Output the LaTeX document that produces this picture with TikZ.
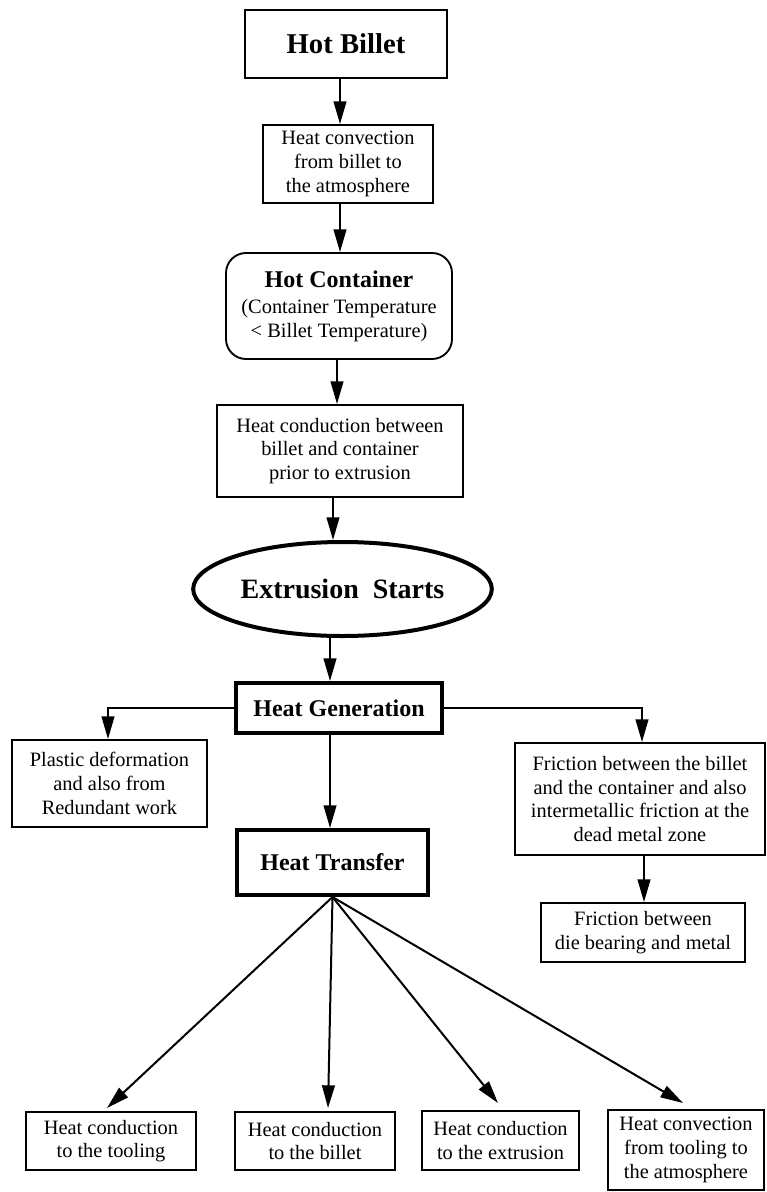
\documentclass[tikz,border=0pt]{standalone}
\usepackage{fontspec}
\setmainfont{Liberation Serif}
\usetikzlibrary{arrows.meta,shapes.geometric,calc}
\begin{document}
\begin{tikzpicture}[x=0.75pt,y=-0.75pt,
  box/.style={draw, line width=1.4pt, inner sep=0pt, align=center, font=\fontsize{15.3}{17.8}\selectfont},
  thickbox/.style={box, line width=3pt, font=\bfseries\fontsize{18}{21}\selectfont},
  arr/.style={-{Triangle[length=17pt,width=9.5pt]}, line width=1.5pt},
  ln/.style={line width=1.5pt}]
\useasboundingbox (0,0) rectangle (767,1192);
\fill[white] (0,0) rectangle (767,1192);

% columns for vertical connectors
\coordinate (x340) at (340,0);
\coordinate (x337) at (337,0);
\coordinate (x333) at (333,0);
\coordinate (x330) at (330,0);
\coordinate (x108) at (108,0);
\coordinate (x642) at (642,0);
\coordinate (x644) at (644,0);

\node[box, line width=1.7pt, minimum width=151.5pt, minimum height=51pt, font=\bfseries\fontsize{21.5}{24}\selectfont] (hotbillet) at (346,44) {Hot Billet};
\node[box, minimum width=127.5pt, minimum height=58.5pt] (conv1) at (348,164) {Heat convection\\from billet to\\the atmosphere};
\node[box, rounded corners=15pt, minimum width=169.5pt, minimum height=79.5pt] (container) at (339,306)
  {{\bfseries\fontsize{18}{21}\selectfont Hot Container}\\[2pt](Container Temperature\\< Billet Temperature)};
\node[box, minimum width=184.5pt, minimum height=69pt] (cond1) at (340,451) {Heat conduction between\\billet and container\\prior to extrusion};
\node[ellipse, draw, line width=3pt, minimum width=224pt, minimum height=70.5pt, inner sep=0pt, font=\bfseries\fontsize{21}{24}\selectfont] (start) at (342.5,589) {Extrusion\ \ Starts};
\node[thickbox, minimum width=154.5pt, minimum height=37.5pt] (heatgen) at (339,708) {Heat Generation};
\node[box, minimum width=146.25pt, minimum height=65.25pt] (plastic) at (109.5,783.5) {Plastic deformation\\and also from\\Redundant work};
\node[box, minimum width=187.5pt, minimum height=84pt] (friction) at (640,799) {Friction between the billet\\and the container and also\\intermetallic friction at the\\dead metal zone};
\node[box, minimum width=153pt, minimum height=44.25pt] (diebearing) at (643,932.5) {Friction between\\die bearing and metal};
\node[thickbox, minimum width=143.25pt, minimum height=48.75pt] (heattransfer) at (332.5,862.5) {Heat Transfer};
\node[box, minimum width=127.5pt, minimum height=43.5pt] (tooling) at (111,1141) {Heat conduction\\to the tooling};
\node[box, minimum width=120pt, minimum height=43.5pt] (billet) at (315,1141) {Heat conduction\\to the billet};
\node[box, minimum width=117.75pt, minimum height=44.25pt] (extrusion) at (500.5,1140.5) {Heat conduction\\to the extrusion};
\node[box, minimum width=117pt, minimum height=60pt] (atmos) at (686,1150) {Heat convection\\from tooling to\\the atmosphere};

% arrow tips of the fan
\coordinate (t1) at (107,1108);
\coordinate (t2) at (328,1108);
\coordinate (t3) at (498,1103);
\coordinate (t4) at (683,1103);

\draw[arr] (hotbillet.south -| x340) -- (conv1.north -| x340);
\draw[arr] (conv1.south -| x340) -- (container.north -| x340);
\draw[arr] (container.south -| x337) -- (cond1.north -| x337);
\draw[arr] (cond1.south -| x333) -- (start.north -| x333);
\draw[arr] (start.south -| x330) -- (heatgen.north -| x330);
\draw[arr] (heatgen.south -| x330) -- (heattransfer.north -| x330);
\draw[arr] (heatgen.west) -| (plastic.north -| x108);
\draw[arr] (heatgen.east) -| (friction.north -| x642);
\draw[arr] (friction.south -| x644) -- (diebearing.north -| x644);

\draw[arr] (heattransfer.south) -- (t1);
\draw[arr] (heattransfer.south) -- (t2);
\draw[arr] (heattransfer.south) -- (t3);
\draw[arr] (heattransfer.south) -- (t4);
\end{tikzpicture}
\end{document}
